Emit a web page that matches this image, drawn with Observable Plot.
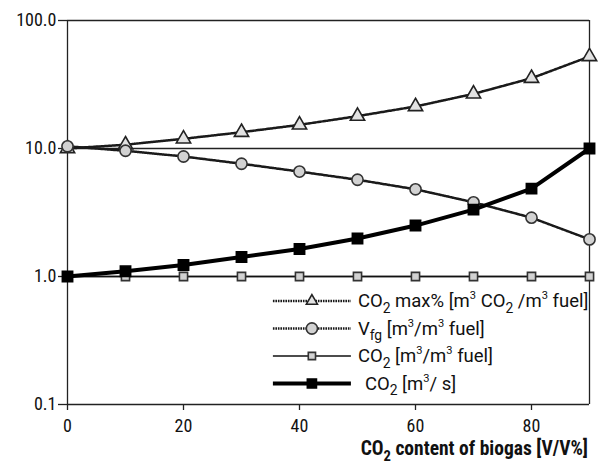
<!DOCTYPE html>
<html>
<head>
<meta charset="utf-8">
<script src="https://cdn.jsdelivr.net/npm/d3@7"></script>
<script src="https://cdn.jsdelivr.net/npm/@observablehq/plot@0.6"></script>
<style>
  body { margin: 0; background: #fff; }
  #chart svg, #chart svg text { font-family: "Roboto", sans-serif; font-stretch: 80%; }
  #chart svg text.legend-label { font-stretch: 92%; }
</style>
</head>
<body>
<div id="chart"></div>
<script>
// CO2 content of the biogas, volume percent
const co2Content = [0, 10, 20, 30, 40, 50, 60, 70, 80, 90];
// CO2 max% [m3 CO2 / m3 fuel]
const co2MaxPct = [10.0, 10.7, 11.9, 13.4, 15.3, 17.9, 21.3, 26.7, 35.4, 52.3];
// Flue gas volume V_fg [m3 / m3 fuel]
const flueGasVolume = [10.4, 9.6, 8.66, 7.6, 6.6, 5.7, 4.8, 3.8, 2.88, 1.95];
// CO2 [m3 / m3 fuel]
const co2PerFuel = [1, 1, 1, 1, 1, 1, 1, 1, 1, 1];
// CO2 flow [m3 / s]
const co2Flow = [1.0, 1.1, 1.23, 1.42, 1.64, 1.98, 2.5, 3.33, 4.86, 10.0];

const xTicks = [0, 20, 40, 60, 80];
const yTicks = [0.1, 1, 10, 100];
const xLabel = "CO_{2} content of biogas [V/V%]";
const seriesNames = [
  "CO_{2} max% [m^{3} CO_{2} /m^{3} fuel]",
  "V_{fg} [m^{3}/m^{3} fuel]",
  "CO_{2} [m^{3}/m^{3} fuel]",
  "CO_{2} [m^{3}/ s]"
];

const FONT = '"Roboto", sans-serif';
const rows = (vals) => co2Content.map((x, i) => ({x, y: vals[i]}));

const styles = [
  {values: co2MaxPct, symbol: "triangle", r: 5.3, fill: "#e2e2e2", stroke: "#1a1a1a", width: 2.5, dash: "1.6,0.9", mstroke: "#222", indent: 0},
  {values: flueGasVolume, symbol: "circle", r: 5.6, fill: "#d2d2d2", stroke: "#1a1a1a", width: 2.5, dash: "1.6,0.9", mstroke: "#333", indent: 0},
  {values: co2PerFuel, symbol: "square", r: 4.6, fill: "#d2d2d2", stroke: "#111", width: 1.6, dash: null, mstroke: "#333", indent: 0},
  {values: co2Flow, symbol: "square", r: 5.8, fill: "#000", stroke: "#000", width: 4, dash: null, mstroke: "#000", indent: 7}
];

const seriesMarks = styles.flatMap(s => [
  Plot.line(rows(s.values), {x: "x", y: "y", stroke: s.stroke, strokeWidth: s.width, strokeDasharray: s.dash}),
  Plot.dot(rows(s.values), {x: "x", y: "y", symbol: s.symbol, r: s.r, fill: s.fill, stroke: s.mstroke, strokeWidth: 1.6})
]);

const plot = Plot.plot({
  width: 600,
  height: 466,
  marginLeft: 67,
  marginRight: 11,
  marginTop: 20,
  marginBottom: 62,
  style: {fontFamily: FONT, fontSize: "18px", color: "#111", background: "#fff", overflow: "visible"},
  x: {domain: [0, 90]},
  y: {type: "log", domain: [0.1, 100]},
  marks: [
    Plot.ruleY([1, 10, 100], {stroke: "#222", strokeWidth: 1.3}),
    Plot.ruleX([90], {stroke: "#222", strokeWidth: 1.3}),
    Plot.axisX({ticks: xTicks, tickSize: 6, tickPadding: 9, label: null, stroke: "#222", strokeWidth: 1.3}),
    Plot.axisY({ticks: yTicks, tickFormat: d => d.toFixed(1), tickSize: 9, tickPadding: 2, label: null, stroke: "#222", strokeWidth: 1.3}),
    Plot.ruleX([0], {stroke: "#222", strokeWidth: 1.3}),
    Plot.ruleY([0.1], {stroke: "#222", strokeWidth: 1.3}),
    ...seriesMarks
  ]
});

document.getElementById("chart").appendChild(plot);

// Text with _{sub} and ^{sup} markup rendered as shifted tspans
function richText(sel, str, fs) {
  sel.text(null);
  const re = /([_^])\{([^}]*)\}/g;
  const parts = [];
  let last = 0, m;
  while ((m = re.exec(str))) {
    if (m.index > last) parts.push({t: str.slice(last, m.index), k: ""});
    parts.push({t: m[2], k: m[1]});
    last = re.lastIndex;
  }
  if (last < str.length) parts.push({t: str.slice(last), k: ""});
  let cur = 0;
  for (const p of parts) {
    const target = p.k === "_" ? fs * 0.32 : p.k === "^" ? -fs * 0.42 : 0;
    sel.append("tspan")
      .attr("dy", target - cur)
      .attr("font-size", p.k === "_" ? fs * 0.75 : p.k === "^" ? fs * 0.6 : fs)
      .text(p.t);
    cur = target;
  }
}

const svg = d3.select(plot.tagName.toLowerCase() === "svg" ? plot : plot.querySelector("svg"));
const sx = plot.scale("x"), sy = plot.scale("y");

// x axis title, right-aligned to the frame
const title = svg.append("text")
  .attr("x", sx.apply(90) - 1)
  .attr("y", sy.apply(0.1) + 51)
  .attr("text-anchor", "end")
  .attr("font-weight", "bold")
  .attr("fill", "#111");
richText(title, xLabel, 19.5);

// legend in the lower right of the frame
const symbolTypes = {triangle: d3.symbolTriangle2, circle: d3.symbolCircle, square: d3.symbolSquare2};
const lg = svg.append("g").attr("transform", `translate(${sx.apply(35.5)},${sy.apply(1)})`);
styles.forEach((s, i) => {
  const y = 25 + i * 27.5;
  lg.append("line").attr("x1", 0).attr("x2", 78).attr("y1", y).attr("y2", y)
    .attr("stroke", s.stroke).attr("stroke-width", s.width)
    .attr("stroke-dasharray", s.dash);
  lg.append("path")
    .attr("transform", `translate(39,${y})`)
    .attr("d", d3.symbol(symbolTypes[s.symbol], Math.PI * s.r * s.r)())
    .attr("fill", s.fill).attr("stroke", s.mstroke).attr("stroke-width", 1.6);
  const t = lg.append("text")
    .attr("class", "legend-label")
    .attr("x", 85 + s.indent).attr("y", y + 6)
    .attr("text-anchor", "start")
    .attr("fill", "#111");
  richText(t, seriesNames[i], 18.5);
});
</script>
</body>
</html>
